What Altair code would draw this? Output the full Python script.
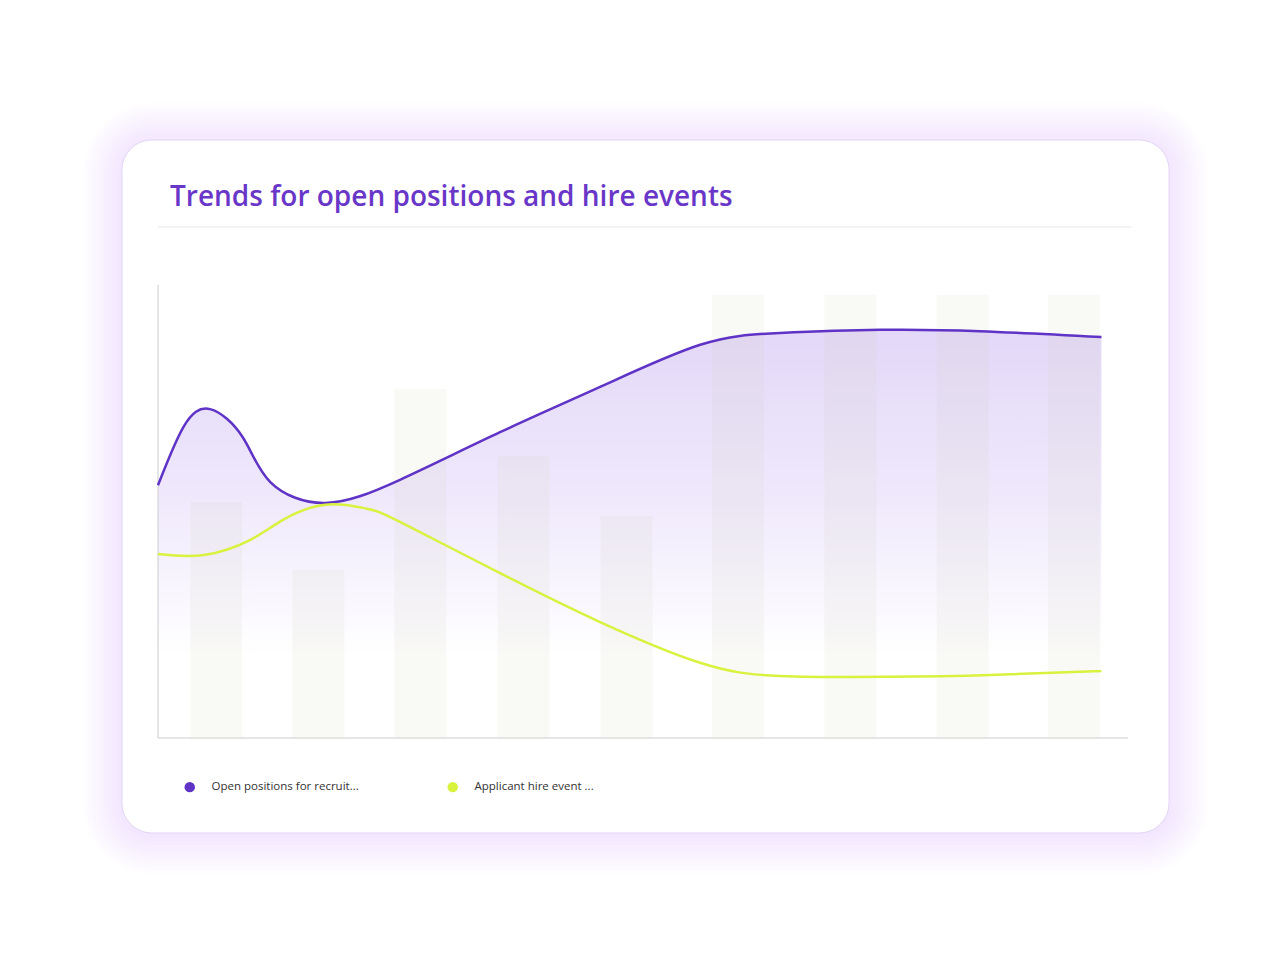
import altair as alt
import pandas as pd

# ---------------- data ----------------
title_text = "Trends for open positions and hire events"
series_names = ["Open positions for recruit...", "Applicant hire event ..."]
series_colors = ["#5f33c6", "#d8f23e"]

# line points (x in period units)
open_x = [0.0, 0.25, 0.51, 0.83, 1.10, 1.64, 2.37, 3.35, 4.33, 5.31, 6.09, 7.07, 8.05, 9.24]
open_positions = [55.8, 68.7, 72.6, 66.4, 56.5, 51.9, 57.0, 67.5, 77.5, 86.8, 89.4, 90.1, 89.8, 88.5]
hire_x = [0.0, 0.45, 0.90, 1.22, 1.64, 2.05, 2.37, 3.35, 4.33, 5.31, 6.09, 7.17, 8.15, 9.24]
hire_events = [40.6, 40.4, 43.7, 48.1, 51.5, 50.6, 47.7, 36.4, 25.6, 16.6, 13.7, 13.5, 13.9, 14.8]

# background bars
bar_x = [0.57, 1.57, 2.57, 3.58, 4.59, 5.68, 6.78, 7.88, 8.97]
bar_values = [52.1, 37.1, 77.0, 62.3, 49.0, 97.8, 97.8, 97.8, 97.8]

x_domain = [0, 9.5]
y_domain = [0, 100]

# ---------------- tables ----------------
open_df = pd.DataFrame({"x": open_x, "value": open_positions, "series": series_names[0]})
hire_df = pd.DataFrame({"x": hire_x, "value": hire_events, "series": series_names[1]})
lines_df = pd.concat([open_df, hire_df], ignore_index=True)
bars_df = pd.DataFrame({"x": bar_x, "value": bar_values})

W, H = 1264, 940
xs = alt.Scale(domain=x_domain, range=[150, 1120], nice=False, zero=False, padding=0)
ys = alt.Scale(domain=y_domain, range=[730, 277], nice=False)

one = alt.Data(values=[{}])

# ---------------- card + glow ----------------
card = dict(x0=114, y0=132, x1=1161, y1=825, r=30)
glow_layers = []
for k in range(12, 0, -1):
    d = k * 3.3
    glow_layers.append(
        alt.Chart(one).mark_rect(
            cornerRadius=card["r"] + d, fill="#8c5cf2", opacity=0.011, strokeWidth=0
        ).encode(
            x=alt.value(card["x0"] - d), x2=alt.value(card["x1"] + d),
            y=alt.value(card["y0"] - d + 2), y2=alt.value(card["y1"] + d + 2),
        )
    )
card_rect = alt.Chart(one).mark_rect(
    cornerRadius=card["r"], fill="white", stroke="#e2d5f7", strokeWidth=1
).encode(
    x=alt.value(card["x0"]), x2=alt.value(card["x1"]),
    y=alt.value(card["y0"]), y2=alt.value(card["y1"]),
)

separator = alt.Chart(one).mark_rule(color="#e8e8e8", strokeWidth=1.2).encode(
    x=alt.value(150), x2=alt.value(1123), y=alt.value(219)
)

title = alt.Chart(one).mark_text(
    align="left", baseline="alphabetic", font="Open Sans", fontSize=28,
    fontWeight=600, color="#6937c8"
).encode(x=alt.value(162), y=alt.value(198), text=alt.value(title_text))

# ---------------- plot ----------------
interp = "natural"

area = alt.Chart(open_df).mark_area(
    interpolate=interp,
    color=alt.Gradient(
        gradient="linear",
        stops=[
            alt.GradientStop(color="#e3d8f8", offset=0),
            alt.GradientStop(color="#efe8fc", offset=0.4),
            alt.GradientStop(color="#ffffff", offset=0.8),
        ],
        x1=0, x2=0, y1=0, y2=1,
    ),
).encode(
    x=alt.X("x:Q", scale=xs, axis=None),
    y=alt.Y("value:Q", scale=ys, axis=None),
)

bars = alt.Chart(bars_df).mark_bar(size=52, color="#cfcfb4", opacity=0.12).encode(
    x=alt.X("x:Q", scale=xs, axis=None),
    y=alt.Y("value:Q", scale=ys, axis=None),
)

y_axis_line = alt.Chart(one).mark_rule(color="#cccccc", strokeWidth=1).encode(
    x=alt.X(datum=x_domain[0], scale=xs, axis=None),
    y=alt.Y(datum=y_domain[0], scale=ys, axis=None),
    y2=alt.Y2(datum=y_domain[1]),
)
x_axis_line = alt.Chart(one).mark_rule(color="#cccccc", strokeWidth=1).encode(
    x=alt.X(datum=x_domain[0], scale=xs, axis=None),
    x2=alt.X2(datum=x_domain[1]),
    y=alt.Y(datum=y_domain[0], scale=ys, axis=None),
)

open_line = alt.Chart(open_df).mark_line(
    interpolate=interp, color=series_colors[0], strokeWidth=2.5
).encode(x=alt.X("x:Q", scale=xs, axis=None), y=alt.Y("value:Q", scale=ys, axis=None))

hire_line = alt.Chart(hire_df).mark_line(
    interpolate=interp, color=series_colors[1], strokeWidth=2.5
).encode(x=alt.X("x:Q", scale=xs, axis=None), y=alt.Y("value:Q", scale=ys, axis=None))

legend_points = alt.Chart(lines_df).mark_point(filled=True, opacity=0).encode(
    x=alt.X("x:Q", scale=xs, axis=None),
    y=alt.Y("value:Q", scale=ys, axis=None),
    color=alt.Color(
        "series:N",
        scale=alt.Scale(domain=series_names, range=series_colors),
        legend=alt.Legend(
            title=None, orient="none", legendX=176, legendY=773, direction="horizontal",
            symbolType="circle", symbolSize=110, symbolOpacity=1, symbolStrokeWidth=0,
            labelFont="Open Sans", labelFontSize=11.5, labelColor="#333333",
            labelOffset=16, columnPadding=88, labelLimit=400,
        ),
    ),
)

chart = alt.layer(
    *glow_layers, card_rect, separator, title,
    area, bars, y_axis_line, x_axis_line, open_line, hire_line, legend_points,
).properties(
    width=W, height=H, padding=0, autosize="none", background="white"
).configure_view(stroke=None)

chart.save("out.html", embed_options={"renderer": "svg", "actions": False})
